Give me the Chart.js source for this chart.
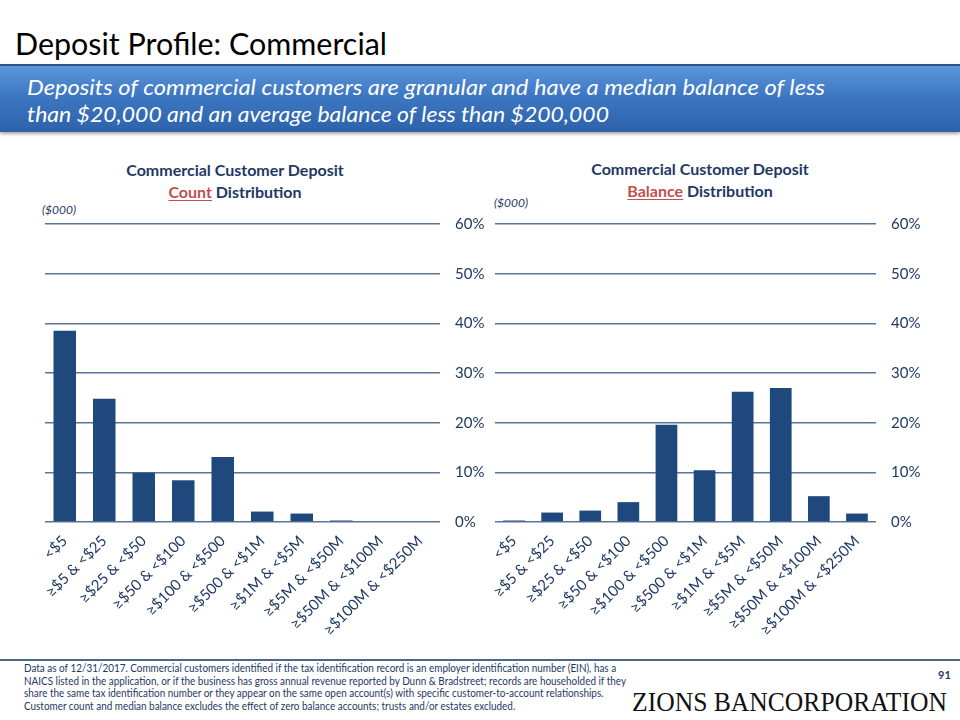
<!DOCTYPE html>
<html>
<head>
<meta charset="utf-8">
<script src="https://cdn.jsdelivr.net/npm/chart.js@4.4.0/dist/chart.umd.min.js"></script>
<style>
  body { margin: 0; width: 960px; height: 720px; position: relative; overflow: hidden; background: #fff; font-family: Lato, sans-serif; }
  .abs { position: absolute; white-space: nowrap; }
  .fit { display: inline-block; transform-origin: 0 50%; }
  #title { left: 15px; top: 24px; font-size: 31px; color: #000; }
  #banner { left: 0; top: 64px; width: 960px; height: 68px; border-top: 2px solid #2b5286; box-sizing: border-box;
    background: linear-gradient(#5b95da, #3d77c2 45%, #2d62aa); box-shadow: 0 2px 3px rgba(0,0,0,0.35); }
  .bline { left: 27px; color: #fff; font-style: italic; font-size: 22px; }
  .ctitle { width: 400px; text-align: center; color: #1f3864; font-weight: bold; font-size: 16px; line-height: 22px; }
  .ctitle u { color: #c0504d; text-decoration-thickness: 1px; text-underline-offset: 2px; }
  .unit { font-style: italic; font-size: 12px; color: #1f3864; }
  canvas { position: absolute; }
  #rule { left: 0; top: 659px; width: 960px; height: 2px; background: #4d6788; }
  #note { left: 24px; top: 662px; font-size: 10.5px; line-height: 12.6px; color: #1f3864; }
  #page { left: 938px; top: 668px; font-size: 11px; font-weight: bold; color: #1f3864; }
  #logo { left: 632px; top: 686px; font-family: "Liberation Serif", serif; font-size: 28px; color: #111; }
</style>
</head>
<body>
<div class="abs" id="title"><span class="fit" data-w="372">Deposit Profile: Commercial</span></div>
<div class="abs" id="banner"></div>
<div class="abs bline" style="top:73px"><span class="fit" data-w="798">Deposits of commercial customers are granular and have a median balance of less</span></div>
<div class="abs bline" style="top:100px"><span class="fit" data-w="582">than $20,000 and an average balance of less than $200,000</span></div>

<div class="abs ctitle" style="left:35px; top:159px">Commercial Customer Deposit<br><u>Count</u> Distribution</div>
<div class="abs ctitle" style="left:500px; top:158px">Commercial Customer Deposit<br><u>Balance</u> Distribution</div>
<div class="abs unit" style="left:42px; top:202px">($000)</div>
<div class="abs unit" style="left:494px; top:195px">($000)</div>

<canvas id="countChart" width="490" height="450" style="left:0; top:200px"></canvas>
<canvas id="balanceChart" width="480" height="450" style="left:450px; top:200px"></canvas>

<div class="abs" id="rule"></div>
<div class="abs" id="note"><span class="fit" data-w="602">Data as of 12/31/2017. Commercial customers identified if the tax identification record is an employer identification number (EIN), has a<br>NAICS listed in the application, or if the business has gross annual revenue reported by Dunn &amp; Bradstreet; records are householded if they<br>share the same tax identification number or they appear on the same open account(s) with specific customer-to-account relationships.<br>Customer count and median balance excludes the effect of zero balance accounts; trusts and/or estates excluded.</span></div>
<div class="abs" id="page">91</div>
<div class="abs" id="logo"><span class="fit" data-w="315">ZIONS BANCORPORATION</span></div>

<script>
// balance buckets, ($000)
let categories = ['<$5', '≥$5 & <$25', '≥$25 & <$50', '≥$50 & <$100', '≥$100 & <$500',
  '≥$500 & <$1M', '≥$1M & <$5M', '≥$5M & <$50M', '≥$50M & <$100M', '≥$100M & <$250M']

// share of commercial customers (%)
let countShare = [38.5, 24.8, 9.9, 8.4, 13.1, 2.1, 1.7, 0.3, 0, 0]
// share of commercial deposit balances (%)
let balanceShare = [0.3, 1.9, 2.3, 4.0, 19.6, 10.4, 26.2, 27.0, 5.2, 1.7]

let yTicks = [0, 10, 20, 30, 40, 50, 60]

let barColor = '#1f497d'
let gridColor = '#5a7599'
let textColor = '#1f3864'

// squeeze text spans to the widths seen in the slide
document.querySelectorAll('.fit').forEach(function(el) {
  let w = el.getBoundingClientRect().width
  el.style.transform = 'scaleX(' + (Number(el.dataset.w) / w) + ')'
})

function makeChart(canvasId, values, axisWidth) {
  let ctx = document.querySelector('#' + canvasId).getContext('2d')
  return new Chart(ctx, {
    type: 'bar',
    data: {
      labels: categories,
      datasets: [{
        data: values,
        backgroundColor: barColor,
        barPercentage: 0.57,
        categoryPercentage: 1
      }]
    },
    options: {
      responsive: false,
      animation: false,
      layout: { padding: { left: 45, top: 23, right: 0, bottom: 0 } },
      plugins: { legend: { display: false }, tooltip: { enabled: false } },
      scales: {
        x: {
          grid: { display: false },
          border: { display: false },
          ticks: {
            color: textColor,
            font: { family: 'Lato', size: 15 },
            maxRotation: 45,
            minRotation: 45,
            autoSkip: false,
            padding: 2
          },
          afterFit: function(scale) { scale.height = 128 }
        },
        y: {
          position: 'right',
          min: yTicks[0],
          max: yTicks[yTicks.length - 1],
          afterBuildTicks: function(scale) {
            scale.ticks = yTicks.map(function(v) { return { value: v } })
          },
          grid: { color: gridColor, lineWidth: 1.5, drawTicks: false },
          border: { display: false },
          ticks: {
            color: textColor,
            font: { family: 'Lato', size: 15 },
            padding: 15,
            callback: function(v) { return v + '%' }
          },
          afterFit: function(scale) { scale.width = axisWidth }
        }
      }
    }
  })
}

makeChart('countChart', countShare, 50)
makeChart('balanceChart', balanceShare, 54)
</script>
</body>
</html>
